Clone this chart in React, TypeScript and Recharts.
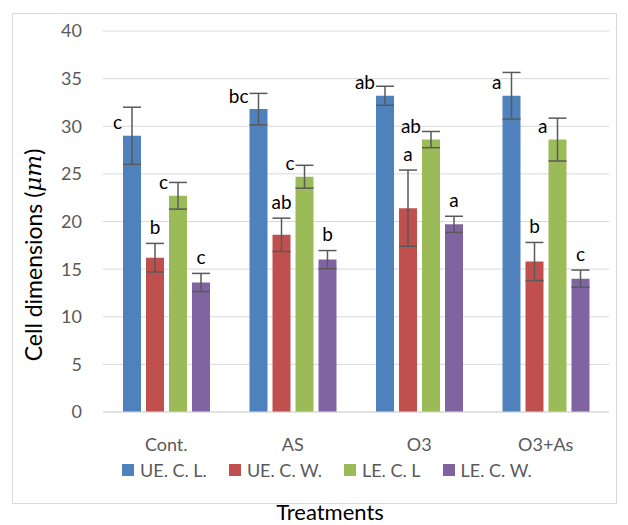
import React from 'react';
import { BarChart, Bar, XAxis, YAxis, CartesianGrid, ErrorBar, LabelList } from 'recharts';

const categories = ['Cont.', 'AS', 'O3', 'O3+As'];

const ueCL = [29.0, 31.8, 33.2, 33.2];
const ueCLErr = [3.0, 1.65, 1.0, 2.45];
const ueCLLetters = ['c', 'bc', 'ab', 'a'];

const ueCW = [16.2, 18.6, 21.4, 15.8];
const ueCWErr = [1.5, 1.75, 4.0, 2.0];
const ueCWLetters = ['b', 'ab', 'a', 'b'];

const leCL = [22.7, 24.7, 28.6, 28.6];
const leCLErr = [1.4, 1.2, 0.85, 2.25];
const leCLLetters = ['c', 'c', 'ab', 'a'];

const leCW = [13.6, 16.0, 19.7, 14.0];
const leCWErr = [0.95, 0.95, 0.85, 0.9];
const leCWLetters = ['c', 'b', 'a', 'c'];

const yTicks = [0, 5, 10, 15, 20, 25, 30, 35, 40];

const series = [
  { key: 'ueCL', name: 'UE. C. L.', color: '#4F81BD', letters: ueCLLetters, place: 'left' },
  { key: 'ueCW', name: 'UE. C. W.', color: '#C0504D', letters: ueCWLetters, place: 'top' },
  { key: 'leCL', name: 'LE. C. L', color: '#9BBB59', letters: leCLLetters, place: 'left' },
  { key: 'leCW', name: 'LE. C. W.', color: '#8064A2', letters: leCWLetters, place: 'top' },
];

const data = categories.map((name, i) => ({
  name,
  ueCL: ueCL[i],
  ueCLErr: ueCLErr[i],
  ueCW: ueCW[i],
  ueCWErr: ueCWErr[i],
  leCL: leCL[i],
  leCLErr: leCLErr[i],
  leCW: leCW[i],
  leCWErr: leCWErr[i],
}));

const errs: Record<string, number[]> = { ueCL: ueCLErr, ueCW: ueCWErr, leCL: leCLErr, leCW: leCWErr };

const FONT = 'Lato, "Open Sans", sans-serif';

// significance letters: blue/green sit left of the bar top, red/purple above the error bar
const makeLetter = (key: string, letters: string[], place: string) => (props: any) => {
  const { x, y, width, height, index, value } = props;
  const pxPerUnit = height / value;
  const errTop = y - errs[key][index] * pxPerUnit;
  if (place === 'left') {
    return (
      <text x={x - 1} y={y - 14} textAnchor="end" dominantBaseline="central" fontSize={19} fontFamily={FONT} fill="#000">
        {letters[index]}
      </text>
    );
  }
  return (
    <text x={x + width / 2} y={errTop - 17} textAnchor="middle" dominantBaseline="central" fontSize={19} fontFamily={FONT} fill="#000">
      {letters[index]}
    </text>
  );
};

export default function App() {
  return (
    <div style={{ position: 'absolute', left: 0, top: 0, width: 628, height: 525, background: '#fff' }}>
      <div style={{ position: 'absolute', left: 12, top: 13, width: 603, height: 489, border: '1px solid #d9d9d9' }} />
      <div style={{ position: 'absolute', left: 0, top: 0 }}>
        <BarChart
          width={628}
          height={525}
          data={data}
          margin={{ top: 31, right: 19, left: 43, bottom: 73 }}
          barSize={18}
          barGap={5}
        >
          <CartesianGrid vertical={false} stroke="#d9d9d9" strokeWidth={1} />
          <XAxis
            dataKey="name"
            height={40}
            tickLine={false}
            axisLine={{ stroke: '#d9d9d9' }}
            tick={{ fill: '#595959', fontSize: 18, fontFamily: FONT }}
            tickMargin={20}
          />
          <YAxis
            width={60}
            domain={[0, 40]}
            ticks={yTicks}
            tickLine={false}
            tickSize={0}
            axisLine={false}
            tickMargin={21}
            tick={{ fill: '#595959', fontSize: 18, fontFamily: FONT }}
          />
          {series.map((s) => (
            <Bar key={s.key} dataKey={s.key} name={s.name} fill={s.color} isAnimationActive={false}>
              <ErrorBar dataKey={s.key + 'Err'} width={9} strokeWidth={1.5} stroke="#595959" direction="y" />
              <LabelList dataKey={s.key} content={makeLetter(s.key, s.letters, s.place)} />
            </Bar>
          ))}
        </BarChart>
      </div>
      <div
        style={{
          position: 'absolute',
          left: 122,
          top: 459,
          display: 'flex',
          alignItems: 'center',
          fontFamily: FONT,
          fontSize: 18,
          color: '#595959',
          whiteSpace: 'nowrap',
        }}
      >
        {series.map((s) => (
          <div key={s.key} style={{ display: 'flex', alignItems: 'center', marginRight: 22 }}>
            <span style={{ width: 12, height: 12, background: s.color, display: 'inline-block', marginRight: 6 }} />
            <span>{s.name}</span>
          </div>
        ))}
      </div>
      <svg width={628} height={525} style={{ position: 'absolute', left: 0, top: 0, pointerEvents: 'none' }}>
        <text
          x={33}
          y={255}
          transform="rotate(-90 33 255)"
          textAnchor="middle"
          dominantBaseline="central"
          fontSize={23}
          fontFamily={FONT}
          fill="#000"
        >
          Cell dimensions (
          <tspan fontStyle="italic" fontFamily="'DejaVu Serif', serif">μm</tspan>)
        </text>
        <text x={330} y={511} textAnchor="middle" dominantBaseline="central" fontSize={22} fontFamily={FONT} fill="#000">
          Treatments
        </text>
      </svg>
    </div>
  );
}
